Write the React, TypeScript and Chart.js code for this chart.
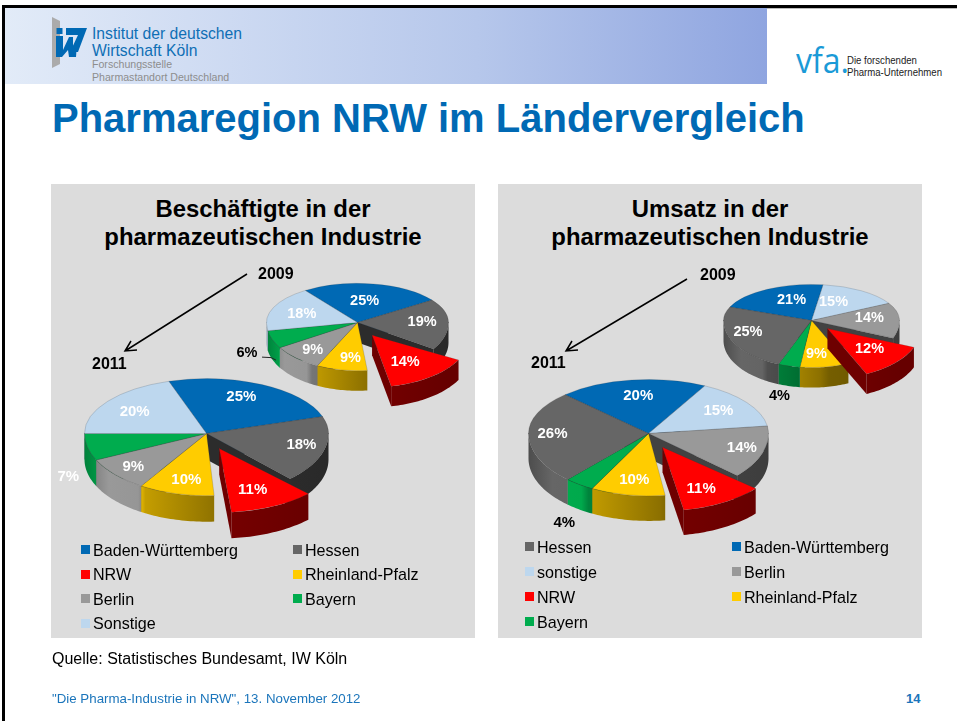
import React, { useEffect, useRef } from "react";
import Chart from "chart.js/auto";

const FONT = '"Liberation Sans", Arial, sans-serif';

// ---- data ----
const employmentRegions = ["Baden-Württemberg", "Hessen", "NRW", "Rheinland-Pfalz", "Berlin", "Bayern", "Sonstige"];
const employment2011 = [25, 18, 11, 10, 9, 7, 20];
const employment2009 = [25, 19, 14, 9, 9, 6, 18];
const revenueRegions = ["Baden-Württemberg", "sonstige", "Berlin", "NRW", "Rheinland-Pfalz", "Bayern", "Hessen"];
const revenue2011 = [20, 15, 14, 11, 10, 4, 26];
const revenue2009 = [21, 15, 14, 12, 9, 4, 25];
const legendLeft = ["Baden-Württemberg", "Hessen", "NRW", "Rheinland-Pfalz", "Berlin", "Bayern", "Sonstige"];
const legendRight = ["Hessen", "Baden-Württemberg", "sonstige", "Berlin", "NRW", "Rheinland-Pfalz", "Bayern"];

// ---- styles ----
const regionColor: Record<string, string> = {
  "Baden-Württemberg": "#0069B4",
  Hessen: "#666666",
  NRW: "#FF0000",
  "Rheinland-Pfalz": "#FFCC00",
  Berlin: "#999999",
  Bayern: "#00AC4E",
  Sonstige: "#BDD7EE",
  sonstige: "#BDD7EE",
};

type PieCfg = {
  regions: string[]; values: number[]; cx: number; cy: number; radius: number; rotation: number;
  kTop: number; kBot: number; depth: number; explode: number[]; grow: number; turn: number; labelRadius: number[]; labelTurn: number[];
  labelColor: string[]; fontSize: number; leaderOn?: number;
};

const W = "#FFFFFF";
const K = "#000000";
const pies: PieCfg[] = [
  { regions: employmentRegions, values: employment2009, cx: 357, cy: 322, radius: 91, rotation: -35, kTop: 0.43, kBot: 0.53, depth: 20,
    explode: [0, 0, 28, 0, 0, 0, 0], grow: 1.08, turn: -5, labelRadius: [0.56, 0.71, 0.66, 0.75, 0.76, 1.37, 0.65], labelTurn: [-2, 0, -2, -4, -2, -7, -3],
    labelColor: [W, W, W, W, W, K, W], fontSize: 14.5, leaderOn: 5 },
  { regions: employmentRegions, values: employment2011, cx: 206, cy: 433, radius: 122, rotation: -18, kTop: 0.45, kBot: 0.51, depth: 26,
    explode: [0, 0, 32, 0, 0, 0, 0], grow: 1.03, turn: -2, labelRadius: [0.73, 0.8, 0.72, 0.77, 0.8, 1.33, 0.71], labelTurn: [-4, -1, 1, -2, 0, -19, -2],
    labelColor: [W, W, W, W, W, W, W], fontSize: 15 },
  { regions: revenueRegions, values: revenue2009, cx: 811, cy: 320, radius: 88, rotation: -68, kTop: 0.41, kBot: 0.535, depth: 20,
    explode: [0, 0, 0, 22, 0, 0, 0], grow: 1.06, turn: 0, labelRadius: [0.6, 0.58, 0.66, 0.64, 0.71, 1.64, 0.76], labelTurn: [8, -9, -2, -2, 4, -2, 5],
    labelColor: [W, W, W, W, W, K, W], fontSize: 14.5 },
  { regions: revenueRegions, values: revenue2011, cx: 648, cy: 433, radius: 120, rotation: -44, kTop: 0.45, kBot: 0.52, depth: 25,
    explode: [0, 0, 0, 30, 0, 0, 0], grow: 1.02, turn: -2, labelRadius: [0.7, 0.72, 0.81, 0.74, 0.76, 1.59, 0.8], labelTurn: [1, -1, -1, 2, -1, -9, 0],
    labelColor: [W, W, W, W, W, K, W], fontSize: 15 },
];

const shade = (hex: string, f: number) => {
  const n = parseInt(hex.slice(1), 16);
  const c = (v: number) => Math.round(Math.min(255, v * f));
  return `rgb(${c((n >> 16) & 255)},${c((n >> 8) & 255)},${c(n & 255)})`;
};
const wallStops: [number, number][] = [[0, 0.75], [0.1, 1.0], [0.22, 0.98], [0.25, 0.77], [0.55, 0.55], [0.6, 0.46], [1, 0.4]];

function makePlugin(cfg: PieCfg) {
  return {
    id: "pie3d",
    beforeDatasetsDraw(chart: any) {
      const ctx: CanvasRenderingContext2D = chart.ctx;
      const arcs: any[] = chart.getDatasetMeta(0).data;
      const { kTop, kBot, depth, explode, grow } = cfg;
      const map = (x: number, y: number, r: number, a: number) => {
        const s = Math.sin(a);
        return [x + r * Math.cos(a), y + r * s * (s > 0 ? kBot : kTop)];
      };
      const centre = (i: number) => {
        const a = arcs[i];
        const mid = (a.startAngle + a.endAngle) / 2;
        return map(a.x, a.y, explode[i], mid);
      };
      const scaleOf = (i: number) => (explode[i] ? grow : 1);
      const turnOf = (i: number) => (explode[i] ? (cfg.turn * Math.PI) / 180 : 0);
      const wallFill = (color: string, arc: any) => {
        const R = arc.outerRadius;
        const g = ctx.createLinearGradient(arc.x - R, 0, arc.x + R, 0);
        wallStops.forEach(([p, f]) => g.addColorStop(p, shade(color, f)));
        return g;
      };
      const drawFaces = (i: number) => {
        const arc = arcs[i];
        const color = arc.options.backgroundColor as string;
        const [x, y] = centre(i);
        const R = arc.outerRadius * scaleOf(i);
        const t = turnOf(i);
        const quad = (ang: number) => {
          const [px, py] = map(x, y, R, ang + t);
          ctx.beginPath();
          ctx.moveTo(x, y);
          ctx.lineTo(px, py);
          ctx.lineTo(px, py + depth);
          ctx.lineTo(x, y + depth);
          ctx.closePath();
          ctx.fillStyle = shade(color, 0.43);
          ctx.fill();
        };
        if (Math.cos(arc.startAngle) < 0) quad(arc.startAngle);
        if (Math.cos(arc.endAngle) > 0) quad(arc.endAngle);
      };
      const drawWall = (i: number) => {
        const arc = arcs[i];
        const color = arc.options.backgroundColor as string;
        const [x, y] = centre(i);
        const R = arc.outerRadius * scaleOf(i);
        const t = turnOf(i);
        const TAU = Math.PI * 2;
        for (let n = -2; n <= 2; n++) {
          const a0 = Math.max(arc.startAngle + t, n * TAU);
          const a1 = Math.min(arc.endAngle + t, n * TAU + Math.PI);
          if (a1 <= a0) continue;
          const pts: number[][] = [];
          const steps = Math.max(2, Math.ceil((a1 - a0) * 40));
          for (let s = 0; s <= steps; s++) pts.push(map(x, y, R, a0 + ((a1 - a0) * s) / steps));
          ctx.beginPath();
          pts.forEach(([px, py], j) => (j ? ctx.lineTo(px, py) : ctx.moveTo(px, py)));
          [...pts].reverse().forEach(([px, py]) => ctx.lineTo(px, py + depth));
          ctx.closePath();
          ctx.fillStyle = wallFill(color, arc);
          ctx.fill();
        }
      };
      const drawTop = (i: number) => {
        const arc = arcs[i];
        const [x, y] = centre(i);
        const w = chart.width;
        const h = chart.height;
        const g = scaleOf(i);
        [[kTop, -h, y + h + 0.4], [kBot, y - 0.4, h * 2]].forEach(([k, ty, th]) => {
          ctx.save();
          ctx.beginPath();
          ctx.rect(0, ty, w, th);
          ctx.clip();
          ctx.translate(x, y);
          ctx.scale(g, k * g);
          ctx.rotate(turnOf(i));
          ctx.translate(-arc.x, -arc.y);
          arc.draw(ctx);
          ctx.restore();
        });
      };
      const still = arcs.map((_, i) => i).filter((i) => !explode[i]);
      const moved = arcs.map((_, i) => i).filter((i) => explode[i]);
      still.forEach(drawFaces);
      still.forEach(drawWall);
      still.forEach(drawTop);
      moved.forEach(drawFaces);
      moved.forEach(drawWall);
      moved.forEach(drawTop);

      ctx.textAlign = "center";
      ctx.textBaseline = "middle";
      ctx.font = `bold ${cfg.fontSize}px ${FONT}`;
      arcs.forEach((arc, i) => {
        const [x, y] = centre(i);
        const mid = (arc.startAngle + arc.endAngle) / 2 + (cfg.labelTurn[i] * Math.PI) / 180;
        const [lx, ly] = map(x, y, arc.outerRadius * cfg.labelRadius[i], mid);
        ctx.fillStyle = cfg.labelColor[i];
        ctx.fillText(`${cfg.values[i]}%`, lx, ly);
        if (cfg.leaderOn === i) {
          ctx.strokeStyle = "#222";
          ctx.lineWidth = 1;
          ctx.beginPath();
          ctx.moveTo(lx + 15, ly + 4);
          ctx.lineTo(lx + 24, ly + 4.5);
          ctx.lineTo(lx + 29, ly + 7);
          ctx.stroke();
        }
      });
      return false;
    },
  };
}

const PAD = 56;

function Pie3D({ cfg }: { cfg: PieCfg }) {
  const ref = useRef<HTMLCanvasElement | null>(null);
  const size = cfg.radius * 2 + PAD * 2 + 1;
  useEffect(() => {
    const chart = new Chart(ref.current as HTMLCanvasElement, {
      type: "pie",
      data: {
        labels: cfg.regions,
        datasets: [
          {
            data: cfg.values,
            backgroundColor: cfg.regions.map((r) => regionColor[r]),
            borderColor: "rgba(50,50,50,0.25)",
            borderWidth: 1,
          },
        ],
      },
      options: {
        animation: false,
        responsive: false,
        rotation: cfg.rotation,
        events: [],
        layout: { padding: PAD },
        plugins: { legend: { display: false }, tooltip: { enabled: false } },
      },
      plugins: [makePlugin(cfg)],
    } as any);
    return () => chart.destroy();
  }, [cfg]);
  return (
    <canvas
      ref={ref}
      width={size}
      height={size}
      style={{ position: "absolute", left: Math.round(cfg.cx - size / 2), top: Math.round(cfg.cy - size / 2), width: size, height: size }}
    />
  );
}

const T = ({ x, y, size, color = "#000", bold, children, w, align, family, spacing, extra }: any) => (
  <div
    style={{
      position: "absolute", left: x, top: y - size, width: w ?? "auto", height: size * 2, lineHeight: `${size * 2}px`,
      fontFamily: family ?? FONT, fontSize: size, color, fontWeight: bold ? 700 : 400, whiteSpace: "nowrap",
      textAlign: align ?? "left", letterSpacing: spacing ?? "normal", ...(extra ?? {}),
    }}
  >
    {children}
  </div>
);

function Legend({ items, colX, textX, rows }: { items: string[]; colX: number[]; textX: number[]; rows: number[] }) {
  return (
    <>
      {items.map((name, i) => {
        const col = i < 6 ? i % 2 : 0;
        const row = Math.floor(i / 2);
        return (
          <React.Fragment key={name}>
            <div style={{ position: "absolute", left: colX[col], top: rows[row] - 5, width: 9, height: 9, background: regionColor[name] }} />
            <T x={textX[col]} y={rows[row]} size={16.1}>{name}</T>
          </React.Fragment>
        );
      })}
    </>
  );
}

export default function App() {
  return (
    <div style={{ position: "absolute", left: 0, top: 0, width: 957, height: 721, overflow: "hidden", background: "#fff" }}>
      <div style={{ position: "absolute", left: 2, top: 5, width: 955, height: 3, background: "#000" }} />
      <div style={{ position: "absolute", left: 5, top: 8, width: 952, height: 1, background: "#bbb" }} />
      <div style={{ position: "absolute", left: 2, top: 5, width: 3, height: 716, background: "#000" }} />
      <div style={{ position: "absolute", left: 5, top: 8, width: 762, height: 76, background: "linear-gradient(90deg,#E2EBF8 0%,#B6C7EB 62%,#8FA5E0 100%)" }} />

      <svg width={957} height={90} style={{ position: "absolute", left: 0, top: 0 }}>
        <polygon points="52,17 60,21 60,64 52,68" fill="#ABABAB" />
        <rect x={56.5} y={28} width={6} height={6} fill="#0069B4" />
        <polygon points="66,28 87,28 78,52 70,52 78,35 66,35" fill="#0069B4" />
        <polygon points="56,36 63,36 63,50 69,37 73,37 73,50 77,43 76,57 69,57 68,50 62,57 56,57" fill="#0069B4" />
      </svg>
      <T x={92} y={34} size={15.7} color="#0F6FB5">Institut der deutschen</T>
      <T x={92} y={51} size={15.7} color="#0F6FB5">Wirtschaft Köln</T>
      <T x={92} y={65} size={10.6} color="#8D8D8D">Forschungsstelle</T>
      <T x={92} y={78} size={10.6} color="#8D8D8D">Pharmastandort Deutschland</T>

      <T x={796} y={63} size={32} color="#1A9AD7" family='"Open Sans", sans-serif' extra={{ transform: "scaleY(1.1)", transformOrigin: "left bottom" }}>vfa.</T>
      <T x={847} y={60.5} size={10} color="#222" extra={{ transform: "scaleX(0.96)", transformOrigin: "left center" }}>Die forschenden</T>
      <T x={847} y={73} size={10} color="#222" extra={{ transform: "scaleX(0.96)", transformOrigin: "left center" }}>Pharma-Unternehmen</T>

      <T x={52} y={118} size={40} color="#0069B4" bold>Pharmaregion NRW im Ländervergleich</T>

      <div style={{ position: "absolute", left: 51, top: 184, width: 424, height: 454, background: "#DCDCDC" }} />
      <div style={{ position: "absolute", left: 498, top: 184, width: 424, height: 454, background: "#DCDCDC" }} />

      <T x={51} y={209} w={424} align="center" size={23.9} bold>Beschäftigte in der</T>
      <T x={51} y={237} w={424} align="center" size={23.9} bold>pharmazeutischen Industrie</T>
      <T x={498} y={209} w={424} align="center" size={23.9} bold>Umsatz in der</T>
      <T x={498} y={237} w={424} align="center" size={23.9} bold>pharmazeutischen Industrie</T>

      {pies.map((cfg, i) => (
        <Pie3D key={i} cfg={cfg} />
      ))}

      <svg width={957} height={400} style={{ position: "absolute", left: 0, top: 0 }}>
        <g stroke="#000" strokeWidth={1.5} fill="none">
          <path d="M247 274 L125 351 M137 350 L125 351 L131 341" />
          <path d="M687 279 L566 351 M578 350 L566 351 L572 341" />
        </g>
      </svg>
      <T x={258} y={274} size={16} bold>2009</T>
      <T x={92} y={364} size={16} bold>2011</T>
      <T x={700} y={275} size={16} bold>2009</T>
      <T x={531} y={363} size={16} bold>2011</T>

      <Legend items={legendLeft} colX={[81, 293]} textX={[93, 305]} rows={[550, 574.5, 599, 623.5]} />
      <Legend items={legendRight} colX={[525, 732]} textX={[537, 744]} rows={[547, 572, 597, 622]} />

      <T x={52} y={659} size={16}>Quelle: Statistisches Bundesamt, IW Köln</T>
      <T x={52} y={699} size={13.3} color="#1B75BB">"Die Pharma-Industrie in NRW", 13. November 2012</T>
      <T x={906} y={699} size={13} color="#1B75BB" bold>14</T>
    </div>
  );
}
